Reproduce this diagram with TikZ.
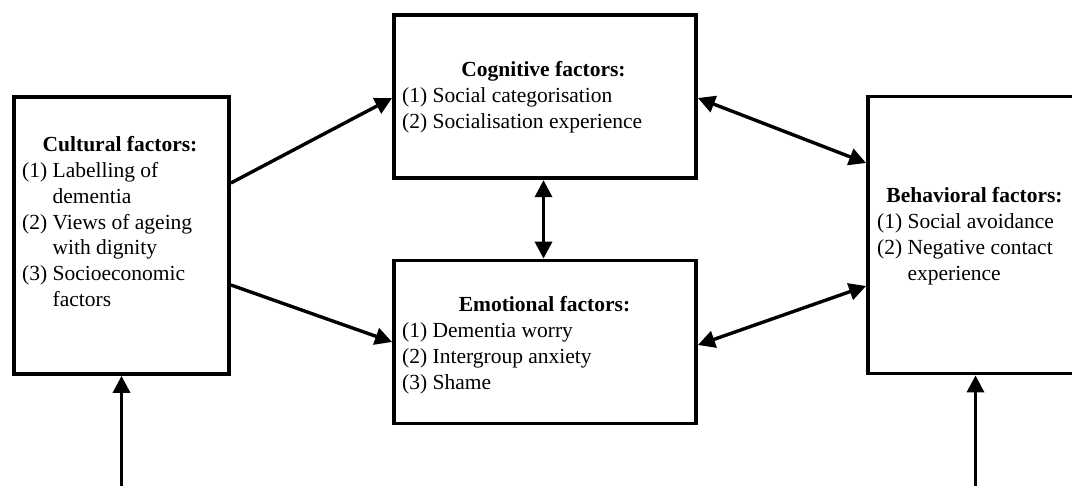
\documentclass[tikz,border=0pt]{standalone}
\usepackage{fontspec}
\setmainfont{Liberation Serif}
\usetikzlibrary{arrows.meta,calc}
\begin{document}
\begin{tikzpicture}[x=1pt,y=-1pt,
  font=\fontsize{21.5}{25.8}\selectfont,
  box/.style={draw, line width=3.8pt, inner sep=0pt, fill=white},
  conn/.style={line width=3.4pt, -{Triangle[length=17pt,width=17pt]}},
  biconn/.style={line width=3.4pt, {Triangle[length=17pt,width=17pt]}-{Triangle[length=17pt,width=17pt]}},
  boxtitle/.style={anchor=base, inner sep=0pt, font=\fontsize{21.5}{25.8}\selectfont\bfseries},
  boxlist/.style={anchor=base west, inner sep=0pt}]
\useasboundingbox (0,0) rectangle (1072,486);

% boxes
\node[box, minimum width=215pt, minimum height=277pt] (cult) at (121.5,235.5) {};
\node[box, minimum width=302pt, minimum height=163pt] (cog) at (545,96.75) {};
\node[box, minimum width=302pt, minimum height=163pt] (emo) at (545,342) {};
\node[box, minimum width=215pt, minimum height=277pt] (beh) at (975.5,235) {};

% texts
\node[boxtitle] (cultT) at (120,152) {Cultural factors:};
\node[boxlist] (cultL) at (22,177.5) {\begin{tabular}[t]{@{}l@{\ }l@{}}
(1) & Labelling of\\
    & dementia\\
(2) & Views of ageing\\
    & with dignity\\
(3) & Socioeconomic\\
    & factors
\end{tabular}};

\node[boxtitle] (cogT) at (543.5,77) {Cognitive factors:};
\node[boxlist] (cogL) at (402,103) {\begin{tabular}[t]{@{}l@{\ }l@{}}
(1) & Social categorisation\\
(2) & Socialisation experience
\end{tabular}};

\node[boxtitle] (emoT) at (544.5,312) {Emotional factors:};
\node[boxlist] (emoL) at (402,337.5) {\begin{tabular}[t]{@{}l@{\ }l@{}}
(1) & Dementia worry\\
(2) & Intergroup anxiety\\
(3) & Shame
\end{tabular}};

\node[boxtitle] (behT) at (974.5,203) {Behavioral factors:};
\node[boxlist] (behL) at (877,229) {\begin{tabular}[t]{@{}l@{\ }l@{}}
(1) & Social avoidance\\
(2) & Negative contact\\
    & experience
\end{tabular}};

% connectors
\draw[conn] ($(cult.east)+(0,-52.5)$) -- ($(cog.west)+(0,1.25)$);
\draw[conn] ($(cult.east)+(0,49.5)$) -- (emo.west);
\draw[biconn] ($(cog.east)+(0,1.25)$) -- ($(beh.west)+(0,-72)$);
\draw[biconn] ($(emo.east)+(0,3)$) -- ($(beh.west)+(0,51)$);
\draw[biconn] ($(cog.south)+(-1.5,0)$) -- ($(emo.north)+(-1.5,0)$);

\coordinate (cultIn) at (121.5,490);
\coordinate (behIn) at (975.5,490);
\draw[conn] (cultIn) -- (cult.south);
\draw[conn] (behIn) -- (beh.south);
\end{tikzpicture}
\end{document}
